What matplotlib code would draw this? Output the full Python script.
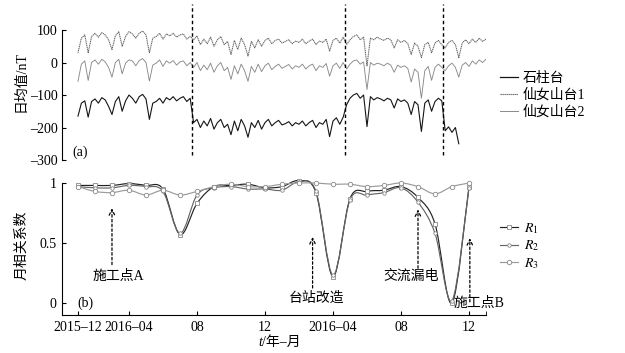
import numpy as np
import matplotlib
matplotlib.use('Agg')
import matplotlib.pyplot as plt
from matplotlib.path import Path
from matplotlib.patches import PathPatch
from matplotlib.lines import Line2D

plt.rcParams['font.family'] = ['Liberation Serif', 'Noto Sans CJK SC']
plt.rcParams['mathtext.fontset'] = 'stix'
plt.rcParams['font.size'] = 10

# ---- panel (a): daily means, sampled every 0.2 month ----
step = 0.2
shizhu = [-165, -125, -118, -168, -120, -112, -125, -108, -115, -135, -160, -120, -105, -150, -118, -100, -110,
          -125, -105, -98, -112, -175, -125, -120, -110, -125, -108, -115, -105, -118, -110, -105, -120, -110,
          -185, -175, -200, -180, -195, -172, -205, -185, -175, -200, -190, -222, -180, -210, -175, -195, -230,
          -185, -200, -178, -205, -185, -175, -195, -185, -178, -192, -188, -182, -195, -185, -190, -180, -195,
          -185, -178, -200, -185, -190, -175, -228, -180, -170, -190, -168,
          -130, -110, -100, -95, -110, -100, -197, -105, -115, -108, -112, -118, -110, -115, -140, -112, -120,
          -115, -125, -160, -120, -130, -212, -125, -115, -150, -120, -110, -118,
          -210, -198, -215, -200, -250]
xns1 = [30, 75, 85, 30, 80, 90, 78, 92, 85, 70, 40, 82, 95, 50, 80, 95, 88, 75, 90, 97, 85, 30, 75, 80, 90, 72,
        88, 82, 90, 78, 85, 88, 72, 80,
        70, 82, 55, 72, 58, 78, 50, 70, 80, 55, 65, 25, 68, 40, 75, 55, 20, 65, 45, 70, 50, 68, 75, 58, 68, 72,
        60, 65, 70, 58, 66, 62, 72, 58, 66, 72, 55, 66, 62, 72, 35, 68, 75, 60, 78,
        55, 70, 80, 85, 70, 78, -10, 75, 70, 78, 72, 68, 75, 70, 45, 70, 62, 68, 58, 25, 60, 50, 15, 55, 62, 30,
        60, 68, 55,
        45, 62, 68, 55, 15, 60, 70, 58, 72, 62, 75, 65, 72]
xns2 = [-58, -5, 5, -55, 0, 8, -5, 10, 2, -15, -45, 0, 10, -35, -2, 8, 5, -10, 6, 12, 0, -57, -8, -2, 8, -12,
        5, -2, 6, -8, 2, 5, -10, 0,
        -15, 0, -25, -8, -22, -2, -30, -10, 0, -25, -15, -52, -10, -35, -5, -25, -58, -12, -30, -5, -28, -10,
        -2, -22, -12, -5, -18, -12, -6, -20, -10, -15, -5, -20, -10, -5, -25, -10, -15, -3, -42, -10, -2, -18, 0,
        -20, -5, 5, 8, -5, 2, -83, 0, -8, -2, -5, -10, -2, -8, -30, -8, -15, -10, -18, -60, -20, -30, -110,
        -25, -12, -55, -15, -5, -15,
        -25, -10, -2, -15, -45, -8, 0, -12, 5, -5, 8, 0, 10]
breaks = [6.7, 15.7, 21.5]

# ---- panel (b): monthly correlation coefficients ----
months = np.arange(24)
R1 = [0.98, 0.98, 0.98, 0.995, 0.98, 0.95, 0.57, 0.83, 0.97, 0.98, 0.99, 0.96, 0.97, 1.02, 0.92, 0.22,
      0.87, 0.93, 0.94, 0.97, 0.88, 0.66, 0.00, 0.97]
R2 = [0.97, 0.96, 0.96, 0.98, 0.97, 0.93, 0.58, 0.90, 0.96, 0.97, 0.95, 0.95, 0.94, 1.01, 0.93, 0.23,
      0.86, 0.90, 0.92, 0.96, 0.84, 0.58, 0.02, 0.96]
R3 = [0.97, 0.93, 0.92, 0.94, 0.90, 0.94, 0.90, 0.93, 0.97, 0.99, 0.97, 0.97, 0.99, 1.00, 1.00, 0.99,
      0.99, 0.97, 0.98, 1.00, 0.97, 0.91, 0.97, 1.00]
tick_pos = [0, 3, 7, 11, 15, 19, 23]
tick_lab = ['2015–12', '2016–04', '08', '12', '2016–04', '08', '12']
events = [('施工点A', 2.0, 0.32, 0.79, 2.35, 0.22),
          ('台站改造', 13.8, 0.125, 0.55, 14.0, 0.04),
          ('交流漏电', 20.0, 0.29, 0.78, 19.6, 0.225),
          ('施工点B', 23.05, 0.01, 0.54, 23.6, 0.0)]

xmin, xmax = -0.94, 24.0

fig = plt.figure(figsize=(6.25, 3.53), dpi=100)
ax1 = fig.add_axes([0.0992, 0.5467, 0.6784, 0.4419])
ax2 = fig.add_axes([0.0992, 0.1076, 0.6784, 0.3943])

t1 = np.arange(len(shizhu)) * step
t2 = np.arange(len(xns1)) * step
ax1.plot(t2, xns1, color='#606060', lw=0.75, ls=(0, (1.2, 0.6)), label='仙女山台1')
ax1.plot(t2, xns2, color='#8a8a8a', lw=0.65, label='仙女山台2')
ax1.plot(t1, shizhu, color='#151515', lw=0.8, label='石柱台')
for b in breaks:
    ax1.plot([b, b], [-285, 180], color='k', lw=1.0, ls=(0, (2.5, 2)))
ax1.set_xlim(xmin, xmax)
ax1.set_ylim(-300, 180)
ax1.set_yticks([100, 0, -100, -200, -300])
ax1.set_yticklabels(['100', '0', '–100', '–200', '–300'])
ax1.set_xticks([])
for s in ['top', 'right', 'bottom']:
    ax1.spines[s].set_visible(False)
ax1.spines['left'].set_bounds(-300, 100)
ax1.tick_params(axis='y', direction='in', length=3, labelsize=10, pad=3)
ax1.text(-0.35, -277, '(a)', va='center', ha='left', fontsize=10)
ax1.set_ylabel('日均值/nT', fontsize=10, labelpad=2)

h = [Line2D([], [], color='#151515', lw=0.9),
     Line2D([], [], color='#606060', lw=0.8, ls=(0, (1.2, 0.6))),
     Line2D([], [], color='#8a8a8a', lw=0.7)]
fig.legend(h, ['石柱台', '仙女山台1', '仙女山台2'], loc='upper left',
           bbox_to_anchor=(500 / 625, 1 - 72 / 353), frameon=False, handlelength=1.3,
           handletextpad=0.3, labelspacing=0.25, borderpad=0, borderaxespad=0, fontsize=10)


def smooth_path(x, y):
    pts = np.column_stack([x, y]).astype(float)
    n = len(pts)
    verts = [pts[0]]
    codes = [Path.MOVETO]
    for i in range(n - 1):
        p0 = pts[max(i - 1, 0)]
        p1 = pts[i]
        p2 = pts[i + 1]
        p3 = pts[min(i + 2, n - 1)]
        verts += [p1 + (p2 - p0) / 6, p2 - (p3 - p1) / 6, p2]
        codes += [Path.CURVE4] * 3
    return Path(verts, codes)


styles = [(R1, '#222222', 's', 2.2, 0.85), (R2, '#666666', 'o', 2.5, 0.85), (R3, '#9a9a9a', 'o', 3.2, 0.85)]
handles = []
for vals, c, m, ms, lw in styles:
    ax2.add_patch(PathPatch(smooth_path(months, vals), fill=False, edgecolor=c, lw=lw))
    ax2.plot(months, vals, ls='none', marker=m, ms=ms, mfc='white', mec='#888888', mew=0.6)
    handles.append(Line2D([], [], color=c, lw=lw, marker=m, ms=ms, mfc='white', mec='#888888', mew=0.6))

for name, x, y0, y1, tx, ty in events:
    ax2.annotate('', xy=(x, y1), xytext=(x, y0),
                 arrowprops=dict(arrowstyle='->', ls=(0, (2, 1.8)), lw=0.9, color='k',
                                 shrinkA=0, shrinkB=0))
    ax2.text(tx, ty, name, ha='center', va='center', fontsize=10)

ax2.set_xlim(xmin, xmax)
ax2.set_ylim(-0.1, 1.06)
ax2.set_yticks([0, 0.5, 1])
ax2.set_yticklabels(['0', '0.5', '1'])
ax2.set_xticks(tick_pos)
ax2.set_xticklabels(tick_lab)
ax2.set_xticks([24], minor=True)
for s in ['top', 'right']:
    ax2.spines[s].set_visible(False)
ax2.spines['left'].set_bounds(-0.1, 1.0)
ax2.tick_params(direction='in', length=3, labelsize=10, pad=4)
ax2.tick_params(which='minor', direction='in', length=3)
ax2.text(-0.05, 0.0, '(b)', va='center', ha='left', fontsize=10)
ax2.set_ylabel('月相关系数', fontsize=10, labelpad=8)

fig.text(262 / 625, 1 - 342 / 353, 't', style='italic', ha='right', va='center', fontsize=10)
fig.text(262 / 625, 1 - 342 / 353, '/年–月', ha='left', va='center', fontsize=10)

fig.legend(handles, ['$R_1$', '$R_2$', '$R_3$'], loc='upper left',
           bbox_to_anchor=(500 / 625, 1 - 221 / 353), frameon=False, handlelength=1.3,
           handletextpad=0.4, labelspacing=0.2, borderpad=0, borderaxespad=0, fontsize=10)

fig.savefig('out.png', dpi=100)
